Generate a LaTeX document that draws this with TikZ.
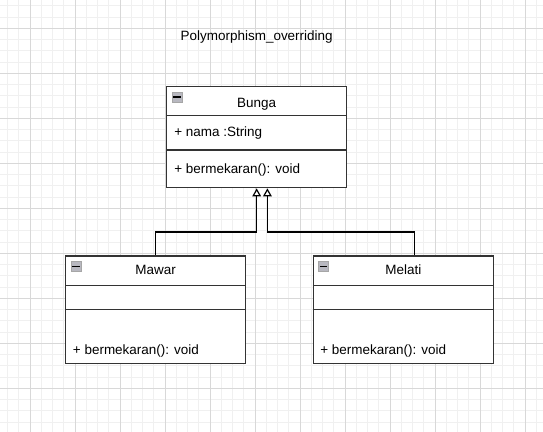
\documentclass[tikz,border=0pt]{standalone}
\usepackage{fontspec}
\setmainfont{Liberation Sans}
\usetikzlibrary{arrows.meta,calc}
\definecolor{gridminor}{HTML}{F0F0F0}
\definecolor{gridmajor}{HTML}{D8D8D8}
\definecolor{boxline}{HTML}{333333}
\definecolor{iconfill}{HTML}{B8B8C0}
\tikzset{
  minorline/.style={gridminor, line width=0.75pt},
  majorline/.style={gridmajor, line width=0.75pt},
  umlbox/.style={draw=boxline, line width=1pt, fill=white, rectangle, inner sep=0pt, minimum width=135pt},
  sepline/.style={boxline, line width=1pt},
  lbl/.style={font=\fontsize{10.1}{12}\selectfont, inner sep=0pt, text=black},
  inh/.style={draw=black, line width=0.9pt, -{Triangle[open, width=6.5pt, length=6pt, fill=white]}},
  iconbox/.style={draw=gray!70, fill=iconfill, line width=0.5pt, minimum size=7.5pt, inner sep=0pt, rectangle}
}
\begin{document}
\begin{tikzpicture}[x=0.75pt, y=-0.75pt]
\useasboundingbox (0,0) rectangle (543,432);
\fill[white] (0,0) rectangle (543,432);
% grid
\foreach \i in {0,...,47} { \draw[minorline] ({7.5+11.25*\i},0) -- ({7.5+11.25*\i},432); }
\foreach \i in {0,...,38} { \draw[minorline] (0,{5.8+11.25*\i}) -- (543,{5.8+11.25*\i}); }
\foreach \i in {0,...,11} { \draw[majorline] ({30+45*\i},0) -- ({30+45*\i},432); }
\foreach \i in {0,...,9} { \draw[majorline] (0,{28.3+45*\i}) -- (543,{28.3+45*\i}); }

% title
\node[lbl, anchor=base] (title) at (256.7,40.7) {Polymorphism\_overriding};

% Bunga
\node[umlbox, minimum height=75.75pt] (bunga) at (256.7,137.2) {};
\draw[sepline] (bunga.west |- 0,115.7) -- (bunga.east |- 0,115.7);
\draw[sepline] (bunga.west |- 0,150) -- (bunga.east |- 0,150);
\node[iconbox] (bungaicon) at (177,97) {};
\draw[black, line width=1pt] ($(bungaicon.west)+(1.5,0)$) -- ($(bungaicon.east)+(-1.5,0)$);
\node[lbl, anchor=base] (bunganame) at (256.7,107.2) {Bunga};
\node[lbl, anchor=base west] (bungaattr) at (174,136) {+ nama :String};
\node[lbl, anchor=base west] (bungaop) at (174,173.3) {+ bermekaran(): void};

% Mawar
\node[umlbox, minimum height=80.5pt] (mawar) at (155.7,309.65) {};
\draw[sepline] (mawar.west |- 0,285.3) -- (mawar.east |- 0,285.3);
\draw[sepline] (mawar.west |- 0,309.3) -- (mawar.east |- 0,309.3);
\node[iconbox] (mawaricon) at (76,266.3) {};
\draw[black, line width=1pt] ($(mawaricon.west)+(1.5,0)$) -- ($(mawaricon.east)+(-1.5,0)$);
\node[lbl, anchor=base] (mawarname) at (155.7,274.3) {Mawar};
\node[lbl, anchor=base west] (mawarop) at (72.7,354) {+ bermekaran(): void};

% Melati
\node[umlbox, minimum height=80.5pt] (melati) at (403.3,309.65) {};
\draw[sepline] (melati.west |- 0,285.3) -- (melati.east |- 0,285.3);
\draw[sepline] (melati.west |- 0,309.3) -- (melati.east |- 0,309.3);
\node[iconbox] (melatiicon) at (323.6,266.3) {};
\draw[black, line width=1pt] ($(melatiicon.west)+(1.5,0)$) -- ($(melatiicon.east)+(-1.5,0)$);
\node[lbl, anchor=base] (melatiname) at (403.3,274.3) {Melati};
\node[lbl, anchor=base west] (melatiop) at (320,354) {+ bermekaran(): void};

% inheritance connectors
\coordinate (bungaR) at ($(bunga.south)+(10.7,0)$);
\coordinate (melatiT) at ($(melati.north)+(11,0)$);
\draw[inh] (mawar.north) -- ++(0,-23.3) -| (bunga.south);
\draw[inh] (melatiT) -- ++(0,-23.3) -| (bungaR);
\end{tikzpicture}
\end{document}
